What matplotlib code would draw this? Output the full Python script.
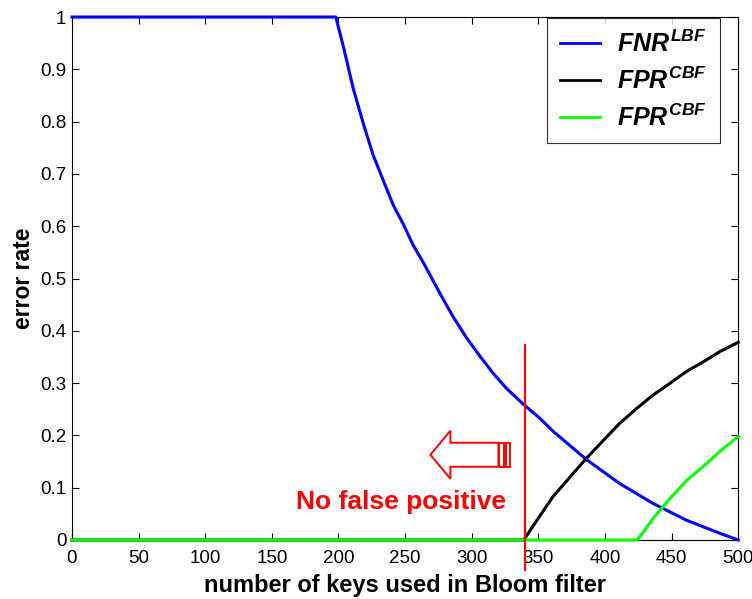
import matplotlib
matplotlib.use("Agg")
import matplotlib.pyplot as plt
from matplotlib.patches import FancyArrow, Rectangle

plt.rcParams['font.family'] = ['Liberation Sans', 'DejaVu Sans']
plt.rcParams['mathtext.fontset'] = 'custom'
plt.rcParams['mathtext.it'] = 'Liberation Sans:bold:italic'
plt.rcParams['mathtext.rm'] = 'Liberation Sans:bold'
plt.rcParams['mathtext.bf'] = 'Liberation Sans:bold'

# values
fnr_x = [0, 198, 204, 211, 219, 226, 234, 241, 249, 256, 264, 276, 286, 296, 306, 316, 326, 339,
         351, 361, 386, 411, 436, 461, 486, 500]
fnr_y = [1, 1, 0.940, 0.864, 0.793, 0.736, 0.685, 0.641, 0.602, 0.564, 0.529, 0.472, 0.427, 0.387,
         0.352, 0.319, 0.290, 0.259, 0.233, 0.208, 0.154, 0.108, 0.070, 0.038, 0.013, 0.0]
fpr_x = [0, 339, 349, 361, 374, 386, 399, 411, 424, 436, 449, 461, 474, 486, 500]
fpr_y = [0, 0, 0.038, 0.083, 0.121, 0.156, 0.191, 0.223, 0.252, 0.277, 0.300, 0.322, 0.341, 0.360, 0.378]
fpr2_x = [0, 424, 430, 436, 449, 461, 474, 486, 500]
fpr2_y = [0, 0, 0.019, 0.041, 0.080, 0.113, 0.141, 0.169, 0.198]
labels = [r'$FNR^{LBF}$', r'$FPR^{CBF}$', r'$FPR^{CBF}$']
cut_x = 340

fig = plt.figure(figsize=(7.52, 5.99), dpi=100)
ax = fig.add_axes([0.0957, 0.0985, 0.886, 0.8731])

ax.plot(fnr_x, fnr_y, color='#0000ff', lw=2.2, label=labels[0], clip_on=False, zorder=3)
ax.plot(fpr_x, fpr_y, color='black', lw=2.2, label=labels[1], clip_on=False, zorder=3)
ax.plot(fpr2_x, fpr2_y, color='#00ff00', lw=2.2, label=labels[2], clip_on=False, zorder=3)

# cut-off marker
ax.plot([cut_x, cut_x], [-0.057, 0.372], color='red', lw=1.6, clip_on=False, zorder=4)

arr = FancyArrow(320, 0.163, -51, 0, width=0.046, head_width=0.092, head_length=15,
                 length_includes_head=True, fill=False, ec='red', lw=1.4, zorder=4)
ax.add_patch(arr)
for x0 in [320.5, 325.5]:
    ax.add_patch(Rectangle((x0, 0.163 - 0.023), 3.5, 0.046, fill=False, ec='red', lw=1.4, zorder=4))

ax.text(247, 0.073, 'No false positive', color='red', fontsize=19, fontweight='bold',
        ha='center', va='center')

ax.set_xlim(0, 500)
ax.set_ylim(0, 1)
ax.set_xticks(range(0, 501, 50))
ax.set_yticks([i / 10 for i in range(11)])
ax.set_yticklabels(['0', '0.1', '0.2', '0.3', '0.4', '0.5', '0.6', '0.7', '0.8', '0.9', '1'])
ax.tick_params(direction='in', top=True, right=True, length=5, width=0.8, labelsize=13.5)
ax.tick_params(axis='x', pad=7)
ax.tick_params(axis='y', pad=4)
for s in ax.spines.values():
    s.set_linewidth(0.8)

ax.set_xlabel('number of keys used in Bloom filter', fontsize=17, fontweight='bold', labelpad=5)
ax.set_ylabel('error rate', fontsize=16.5, fontweight='bold', labelpad=4)

leg = ax.legend(loc='upper left', bbox_to_anchor=(0.713, 0.998), fontsize=18, frameon=True,
                fancybox=False, edgecolor='black', handlelength=1.6, borderaxespad=0.0,
                labelspacing=0.42, handletextpad=0.7, borderpad=0.5)
leg.get_frame().set_linewidth(0.8)
for line in leg.get_lines():
    line.set_linewidth(2.0)

fig.savefig('out.png', dpi=100)
